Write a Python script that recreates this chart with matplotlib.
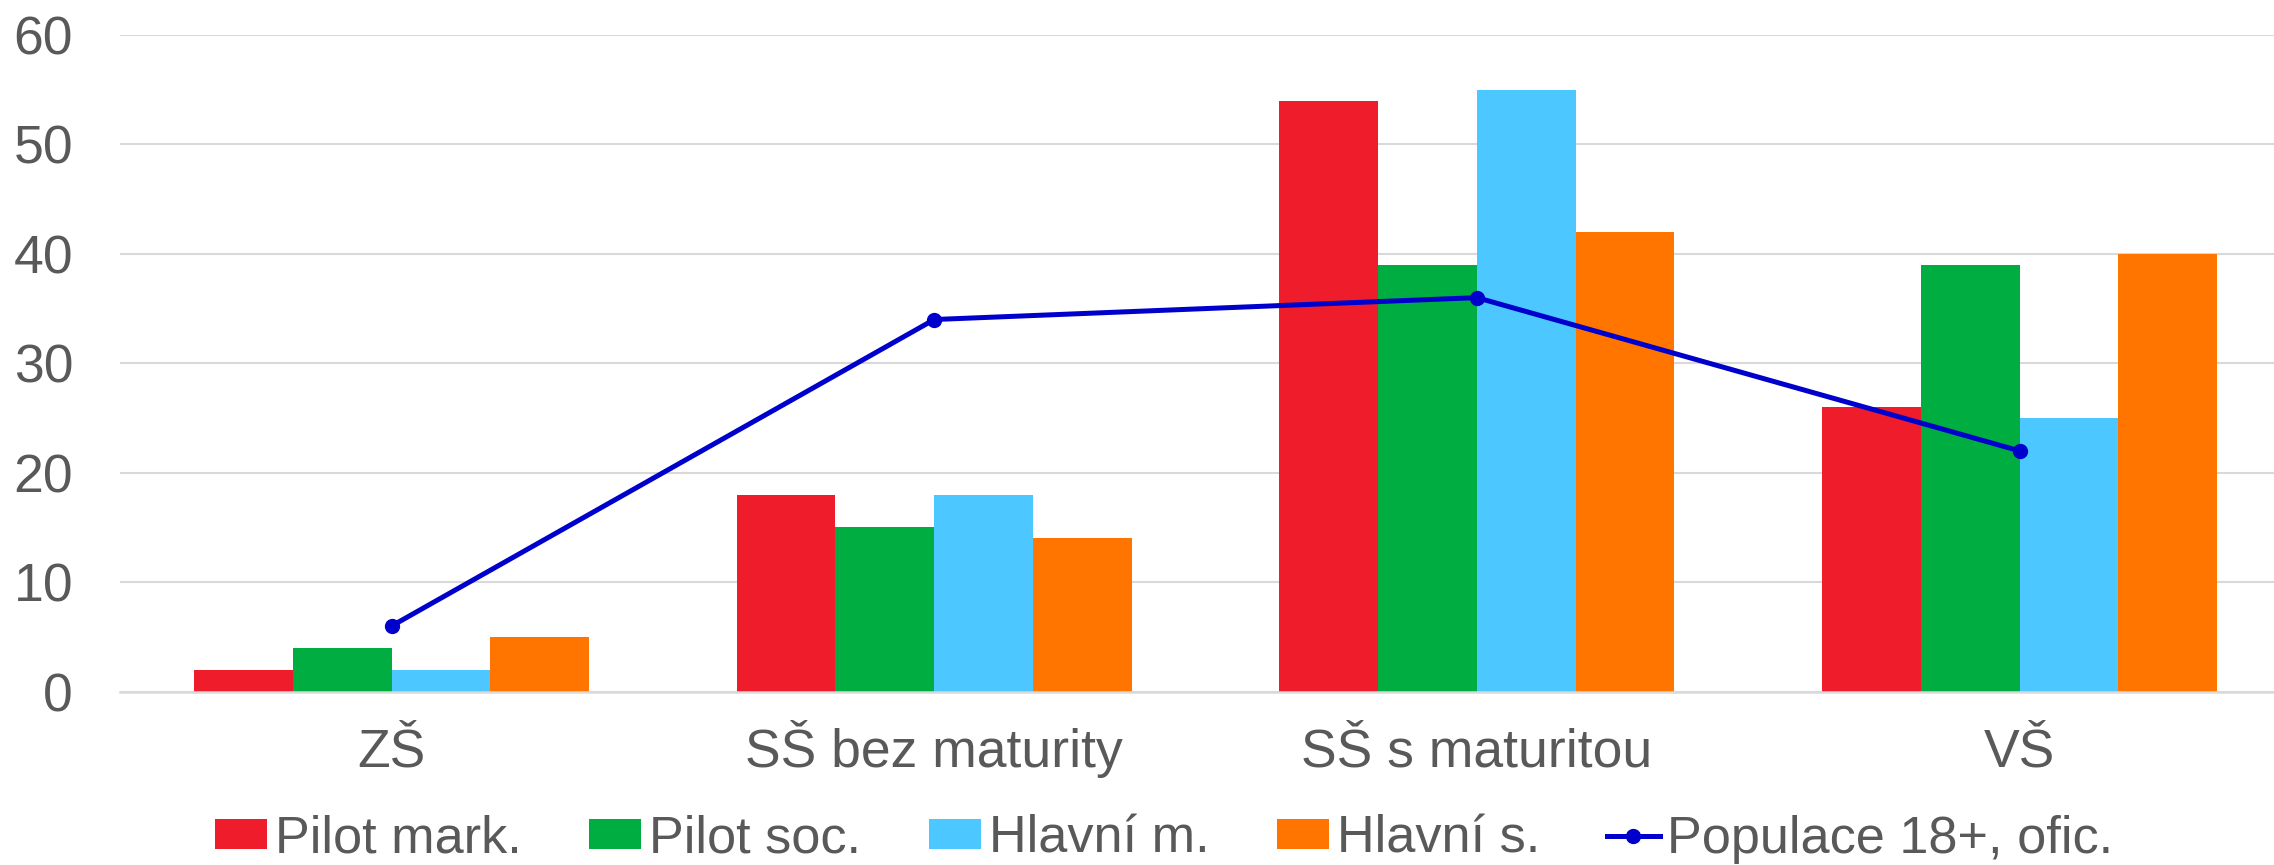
import numpy as np
import matplotlib
matplotlib.use("Agg")
import matplotlib.pyplot as plt

categories = ["ZŠ", "SŠ bez maturity", "SŠ s maturitou", "VŠ"]
pilot_mark = [2, 18, 54, 26]
pilot_soc = [4, 15, 39, 39]
hlavni_m = [2, 18, 55, 25]
hlavni_s = [5, 14, 42, 40]
populace = [6, 34, 36, 22]

series_names = ["Pilot mark.", "Pilot soc.", "Hlavní m.", "Hlavní s."]
series_colors = ["#ef1c2b", "#00ad41", "#4dc7ff", "#ff7500"]
line_color = "#0000cc"
text_color = "#595959"

plt.rcParams["font.family"] = ["Liberation Sans", "DejaVu Sans"]

fig = plt.figure(figsize=(22.74, 8.65), dpi=100)
ax = fig.add_axes([0.0529, 0.2004, 0.9545, 0.7592])

x = np.arange(len(categories))
width = 0.182
bars = []
for i, (vals, name, col) in enumerate(zip([pilot_mark, pilot_soc, hlavni_m, hlavni_s],
                                          series_names, series_colors)):
    b = ax.bar(x + (i - 1.5) * width, vals, width, color=col, label=name,
               linewidth=0, zorder=2)
    bars.append(b)

line, = ax.plot(x, populace, "-o", color=line_color, lw=3.6, markersize=10,
                label="Populace 18+, ofic.", zorder=3)

ax.set_xlim(-0.5, 3.5)
ax.set_ylim(0, 60)
ax.set_yticks(range(0, 61, 10))
ax.grid(axis="y", color="#d9d9d9", lw=1.5, zorder=0)
for s in ["top", "right", "left"]:
    ax.spines[s].set_visible(False)
ax.spines["bottom"].set_color("#d9d9d9")
ax.spines["bottom"].set_linewidth(1.8)
ax.tick_params(axis="both", length=0, colors=text_color, labelsize=38.5)
ax.tick_params(axis="y", pad=34)

ax.set_xticks(x)
ax.set_xticklabels(categories)
ax.tick_params(axis="x", pad=54)
for lbl in ax.get_xticklabels():
    lbl.set_verticalalignment("baseline")

handles = bars + [line]
labels = series_names + ["Populace 18+, ofic."]
fig.legend(handles, labels, loc="center", bbox_to_anchor=(0.512, 0.030), ncol=5,
           frameon=False, fontsize=37.6, handlelength=1.0, handleheight=0.52,
           handletextpad=0.15, columnspacing=1.29, borderpad=0,
           labelcolor=text_color)

fig.savefig("out.png", dpi=100, facecolor="white")
